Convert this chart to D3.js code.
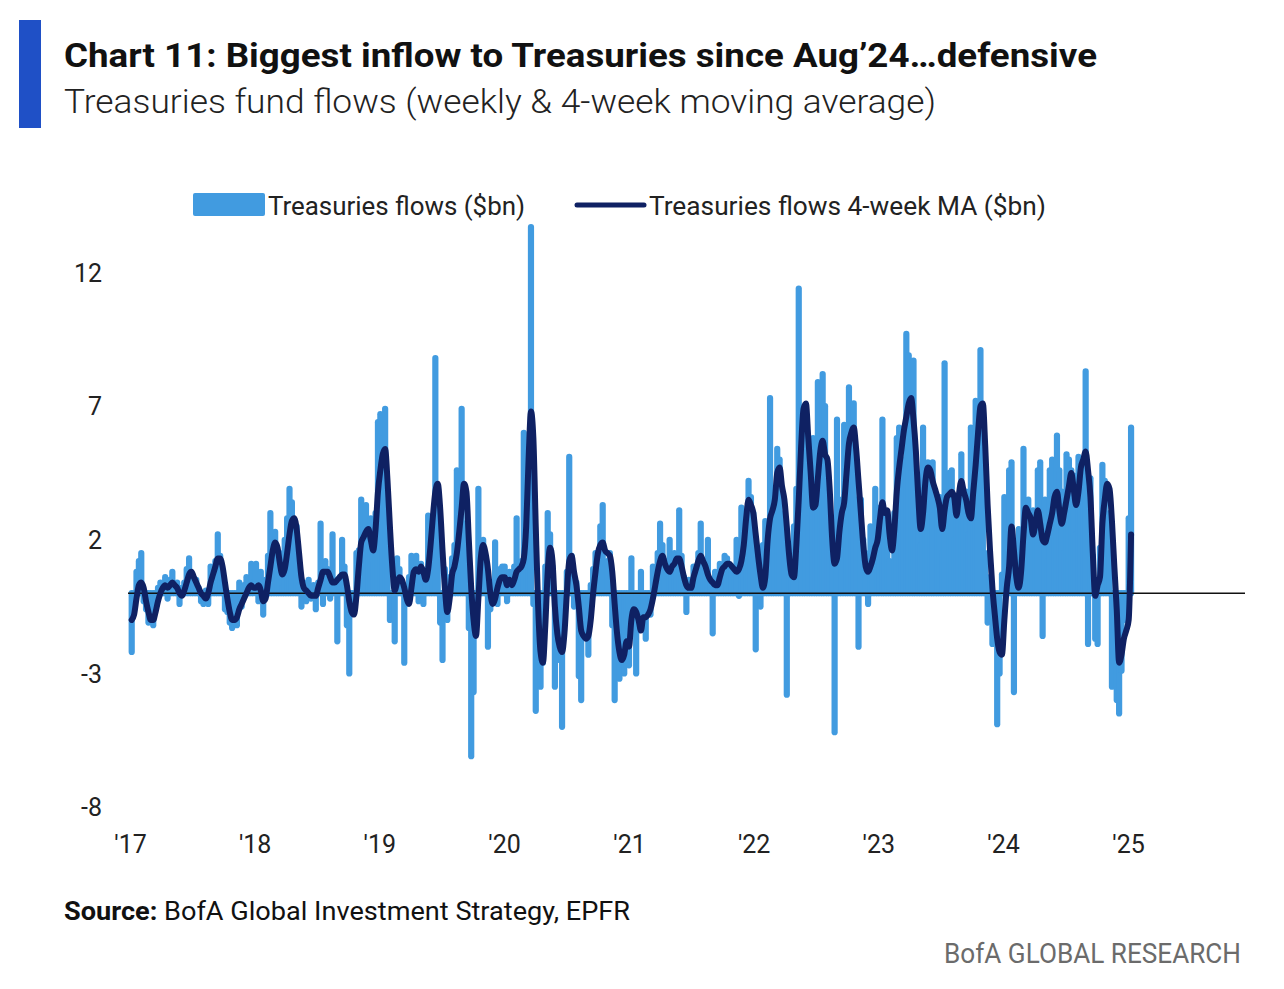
<!DOCTYPE html>
<html><head><meta charset="utf-8">
<script src="https://cdn.jsdelivr.net/npm/d3@7"></script>
<style>body{margin:0;background:#fff}svg{display:block}</style>
</head><body>
<svg id="c" width="1284" height="989"></svg>
<script>
// ---- data (weekly, Fridays, starting 2017-01-06) ----
const startDate = "2017-01-06";
const flows2017 = [-2.2,-0.5,0.8,1.2,1.5,-0.3,-0.6,-1.1,-0.9,-1.2,-0.3,0.2,0.4,0.1,0.6,-0.2,0.5,0.8,0.3,0.4,-0.4,0.2,0.4,0.9,1.3,0.6,0.3,0.5,0.2,-0.3,-0.4,0.1,-0.4,1.0,0.7,1.2,2.2,1.4,0.5,-0.6,-0.7,-1.1,-1.3,-0.8,-1.2,0.4,-0.5,0.3,0.6,0.2,1.1,0.4];
const flows2018 = [1.1,-0.3,0.8,-0.8,0.5,1.4,3.0,1.6,2.3,0.8,1.5,0.2,2.0,2.8,3.9,3.4,2.0,2.5,0.3,-0.5,0.4,-0.3,0.5,-0.2,0.3,-0.6,0.4,2.6,-0.4,1.2,0.9,-0.2,2.2,0.4,-1.8,0.6,2.0,1.0,-1.2,-3.0,-0.6,-0.5,1.5,1.6,3.5,2.4,3.3,1.5,2.8,1.2,3.0,6.4];
const flows2019 = [6.7,5.8,6.9,2.0,-1.0,-0.6,-1.8,1.3,0.9,0.3,-2.6,-0.4,0.6,1.4,0.9,1.4,-0.3,1.1,-0.4,0.8,2.9,2.4,1.5,8.8,3.5,-1.1,-2.5,0.9,-1.0,0.6,1.3,1.8,4.6,3.0,6.9,2.6,1.2,-1.3,-6.1,-3.7,-0.5,3.9,1.2,2.0,0.8,-2.0,-0.6,-0.3,1.9,-0.4,0.9,1.0];
const flows2020 = [1.0,-0.3,0.8,0.2,1.0,2.8,0.4,1.2,6.0,4.5,5.5,13.7,-0.4,-4.4,-2.0,-3.5,-2.6,1.0,3.0,2.2,1.0,-3.5,-2.5,-1.0,-5.0,-0.8,0.8,5.1,1.4,-0.5,0.4,-3.1,-4.0,-1.0,-1.5,-2.3,0.3,0.9,1.5,0.8,2.5,3.3,1.0,1.2,1.5,-1.2,-4.0,-2.0,-3.2,-1.8,-3.0,-1.2];
const flows2021 = [-2.7,1.3,-0.8,-3.0,-1.0,0.8,-1.2,-1.7,-0.3,-0.8,1.0,0.5,1.5,2.6,1.8,0.6,1.2,2.0,0.8,1.5,0.9,3.1,1.4,0.6,-0.7,0.5,0.2,1.0,0.4,1.5,2.6,1.2,0.8,2.0,0.5,-1.5,0.8,0.4,1.1,0.6,1.4,1.3,0.9,1.0,0.6,2.0,-0.1,3.2,0.9,2.5,4.2,3.6,3.0];
const flows2022 = [-2.1,1.5,-0.5,1.8,2.7,1.5,7.3,2.0,3.5,5.4,5.0,2.0,3.0,-3.8,1.2,0.5,2.5,3.9,11.4,6.8,5.5,6.2,2.8,4.0,5.8,3.6,7.9,4.5,8.2,7.0,4.8,3.0,2.5,-5.2,6.5,2.8,3.5,6.3,4.6,7.7,6.0,7.1,3.5,-2.0,3.5,2.0,1.5,-0.4,2.5,1.2,3.9,2.8];
const flows2023 = [3.2,6.5,2.0,2.8,1.2,0.0,3.0,5.8,6.2,4.5,5.0,9.7,8.9,4.5,8.7,2.8,3.5,1.8,6.2,3.6,4.9,4.0,4.9,3.0,3.4,3.6,1.5,8.6,2.5,4.5,4.6,2.0,3.5,2.8,5.2,3.0,3.8,2.2,6.2,4.0,7.2,5.0,9.1,7.0,1.5,-1.1,0.6,-1.9,-0.4,-4.9,-3.0,0.7];
const flows2024 = [3.6,1.0,4.6,4.9,-3.7,1.5,2.4,0.8,5.4,2.2,3.5,1.8,3.1,2.0,4.6,4.9,-1.6,3.5,1.2,4.6,5.0,2.8,5.9,4.6,3.8,1.5,5.2,5.0,4.6,4.4,2.2,5.1,4.6,4.0,8.3,-1.9,4.3,1.4,-1.7,-1.9,1.7,4.8,4.2,2.8,3.0,-3.5,-1.4,-4.0,-4.5,-2.9,-1.0,-0.2];
const flows2025 = [2.8,6.2];

const ma2017 = [-1.0,-0.8,-0.2,0.3,0.4,0.2,-0.3,-0.7,-1.0,-1.0,-0.7,-0.3,0.0,0.2,0.3,0.2,0.3,0.4,0.3,0.2,0.0,-0.1,0.1,0.4,0.7,0.8,0.6,0.4,0.2,0.0,-0.1,-0.2,0.0,0.4,0.7,1.0,1.3,1.3,1.0,0.4,-0.2,-0.7,-1.0,-1.0,-0.9,-0.6,-0.4,-0.2,0.0,0.2,0.3,0.2];
const ma2018 = [0.2,0.3,0.1,-0.3,-0.2,0.4,1.0,1.6,1.9,1.7,1.1,0.7,0.9,1.5,2.2,2.7,2.8,2.4,1.5,0.6,0.2,0.1,0.0,-0.1,-0.1,-0.1,0.2,0.5,0.8,0.8,0.8,0.6,0.4,0.4,0.5,0.6,0.7,0.7,0.3,-0.3,-0.7,-0.8,-0.1,1.0,1.9,2.1,2.3,2.4,2.0,1.6,2.4,3.8];
const ma2019 = [4.6,5.2,5.4,4.2,2.5,1.0,0.1,0.4,0.6,0.5,0.2,-0.2,-0.4,0.2,0.8,0.9,0.8,1.0,0.8,0.5,0.9,1.8,2.9,3.8,4.1,3.2,1.6,0.2,-0.7,-0.2,0.7,1.0,1.5,2.3,3.2,4.1,3.8,2.0,0.2,-1.0,-1.6,-0.2,1.3,1.8,1.5,0.9,0.0,-0.4,-0.2,0.2,0.5,0.6];
const ma2020 = [0.6,0.3,0.5,0.3,0.5,0.8,0.9,1.0,1.3,2.5,5.0,6.8,5.8,2.5,-0.5,-2.2,-2.6,-1.2,0.8,1.7,1.2,-0.5,-1.5,-2.0,-2.2,-1.5,0.0,1.2,1.4,0.8,0.3,-0.5,-1.4,-1.6,-1.7,-1.6,-1.0,0.0,0.8,1.5,1.8,1.9,1.6,1.5,1.4,0.8,-0.4,-1.5,-2.2,-2.5,-2.3,-1.8];
const ma2021 = [-2.0,-1.0,-0.6,-0.7,-1.0,-1.4,-0.9,-0.9,-0.8,-0.6,-0.2,0.3,0.8,1.2,1.4,1.1,0.9,0.8,1.0,1.1,1.3,1.3,1.0,0.6,0.3,0.2,0.2,0.6,0.9,1.2,1.4,1.2,1.0,0.7,0.5,0.4,0.3,0.3,0.6,0.9,1.0,1.1,1.1,1.0,0.9,0.8,0.9,1.2,1.8,2.8,3.5,3.3,3.0];
const ma2022 = [2.2,1.4,0.7,0.2,0.6,2.0,2.8,3.1,3.5,4.5,4.7,4.0,3.5,2.5,1.4,0.7,0.6,1.8,3.5,5.5,6.9,7.1,5.8,4.5,3.2,3.3,4.3,5.3,5.7,5.2,5.0,3.8,2.0,1.1,1.3,2.3,3.0,3.4,4.5,5.6,6.0,6.2,5.4,4.2,3.0,1.8,1.0,0.8,1.0,1.3,1.7,2.0];
const ma2023 = [2.8,3.4,3.0,3.1,2.2,1.6,2.4,3.8,4.7,5.4,6.1,6.6,7.1,7.3,6.5,5.3,3.6,2.4,3.0,4.2,4.7,4.6,4.2,3.9,3.6,3.2,2.4,3.1,3.6,3.7,3.8,3.6,2.9,3.7,4.2,3.8,3.5,3.0,2.8,3.8,4.8,6.0,7.0,7.1,5.5,3.3,1.6,0.2,-0.8,-1.7,-2.2,-2.3];
const ma2024 = [-1.0,0.2,1.0,2.5,1.6,0.6,0.2,0.8,2.2,3.2,3.0,2.8,2.2,2.6,3.1,2.6,2.0,1.9,2.2,2.6,3.0,3.6,3.8,3.1,2.6,3.0,3.5,4.0,4.5,3.9,3.3,3.8,4.7,5.0,5.3,4.6,3.6,1.5,-0.1,0.3,0.6,2.6,3.5,4.1,3.9,2.7,1.0,-0.6,-2.6,-2.3,-1.7,-1.4];
const ma2025 = [-1.0,2.2];

const yTickValues = [-8, -3, 2, 7, 12];
const xTickYears = [2017, 2018, 2019, 2020, 2021, 2022, 2023, 2024, 2025];
const xTickLabels = ["'17","'18","'19","'20","'21","'22","'23","'24","'25"];
const seriesNames = ["Treasuries flows ($bn)", "Treasuries flows 4-week MA ($bn)"];

// ---- build ----
const flows = [].concat(flows2017, flows2018, flows2019, flows2020, flows2021, flows2022, flows2023, flows2024, flows2025);
const ma = [].concat(ma2017, ma2018, ma2019, ma2020, ma2021, ma2022, ma2023, ma2024, ma2025);
const t0 = d3.timeParse("%Y-%m-%d")(startDate);
const data = flows.map((v, i) => ({date: d3.timeDay.offset(t0, 7 * i), v, ma: ma[i]}));

const svg = d3.select("#c");
const FONT = "'Liberation Sans Narrow', Roboto, 'Open Sans', sans-serif";
const barColor = "#419be0";
const maColor = "#0f2163";

const x = d3.scaleTime().domain([new Date(2017,0,1), new Date(2025,0,1)]).range([130, 1128]);
const y = d3.scaleLinear().domain([-8, 12]).range([807, 272.5]);

// left accent bar
svg.append("rect").attr("x", 19).attr("y", 20).attr("width", 22).attr("height", 108).attr("fill", "#1f50c6");

// titles
svg.append("text").attr("x", 64).attr("y", 67).attr("font-family", FONT).attr("font-weight", 700)
  .attr("font-size", 34).attr("fill", "#111").attr("textLength", 1033).attr("lengthAdjust", "spacingAndGlyphs")
  .text("Chart 11: Biggest inflow to Treasuries since Aug’24…defensive");
svg.append("text").attr("x", 64).attr("y", 113).attr("font-family", FONT).attr("font-weight", 300)
  .attr("font-size", 34).attr("fill", "#222").attr("textLength", 872).attr("lengthAdjust", "spacingAndGlyphs")
  .text("Treasuries fund flows (weekly & 4-week moving average)");

// legend
svg.append("rect").attr("x", 193).attr("y", 193).attr("width", 72).attr("height", 23).attr("rx", 2).attr("fill", barColor);
svg.append("text").attr("x", 268).attr("y", 215).attr("font-family", FONT).attr("font-size", 26).attr("fill", "#222")
  .attr("textLength", 257).attr("lengthAdjust", "spacingAndGlyphs").text(seriesNames[0]);
svg.append("line").attr("x1", 577).attr("x2", 644).attr("y1", 205).attr("y2", 205)
  .attr("stroke", maColor).attr("stroke-width", 5).attr("stroke-linecap", "round");
svg.append("text").attr("x", 649).attr("y", 215).attr("font-family", FONT).attr("font-size", 26).attr("fill", "#222")
  .attr("textLength", 397).attr("lengthAdjust", "spacingAndGlyphs").text(seriesNames[1]);

// y axis (labels only)
const yAxis = svg.append("g").attr("transform", "translate(102,0)")
  .call(d3.axisLeft(y).tickValues(yTickValues).tickSize(0).tickPadding(0).tickFormat(d => String(d)));
yAxis.select(".domain").remove();
yAxis.selectAll("text").attr("font-family", FONT).attr("font-size", 25).attr("fill", "#222").attr("dy", "0.35em");

// x axis (labels only)
const xAxis = svg.append("g").attr("transform", "translate(0,833)")
  .call(d3.axisBottom(x).tickValues(xTickYears.map(yr => new Date(yr,0,1))).tickSize(0).tickPadding(0)
    .tickFormat((d, i) => xTickLabels[i]));
xAxis.select(".domain").remove();
xAxis.selectAll("text").attr("font-family", FONT).attr("font-size", 25).attr("fill", "#222").attr("dy", "0.8em");

// bars
svg.append("g").selectAll("line").data(data).join("line")
  .attr("x1", d => x(d.date)).attr("x2", d => x(d.date))
  .attr("y1", y(0)).attr("y2", d => y(d.v))
  .attr("stroke", barColor).attr("stroke-width", 6.2).attr("stroke-linecap", "round");

// zero line
svg.append("line").attr("x1", 128).attr("x2", 1245).attr("y1", y(0)).attr("y2", y(0))
  .attr("stroke", "#111").attr("stroke-width", 1.6);

// moving average
svg.append("path").datum(data)
  .attr("d", d3.line().x(d => x(d.date)).y(d => y(d.ma)).curve(d3.curveMonotoneX))
  .attr("fill", "none").attr("stroke", maColor).attr("stroke-width", 6)
  .attr("stroke-linejoin", "round").attr("stroke-linecap", "round");

// source
const src = svg.append("text").attr("x", 64).attr("y", 920).attr("font-family", FONT).attr("font-size", 26).attr("fill", "#111")
  .attr("textLength", 566).attr("lengthAdjust", "spacingAndGlyphs");
src.append("tspan").attr("font-weight", 700).text("Source:");
src.append("tspan").text(" BofA Global Investment Strategy, EPFR");

svg.append("text").attr("x", 1241).attr("y", 963).attr("text-anchor", "end").attr("font-family", FONT)
  .attr("font-size", 27).attr("fill", "#6b6b6b").attr("textLength", 297).attr("lengthAdjust", "spacingAndGlyphs")
  .text("BofA GLOBAL RESEARCH");
</script>
</body></html>
